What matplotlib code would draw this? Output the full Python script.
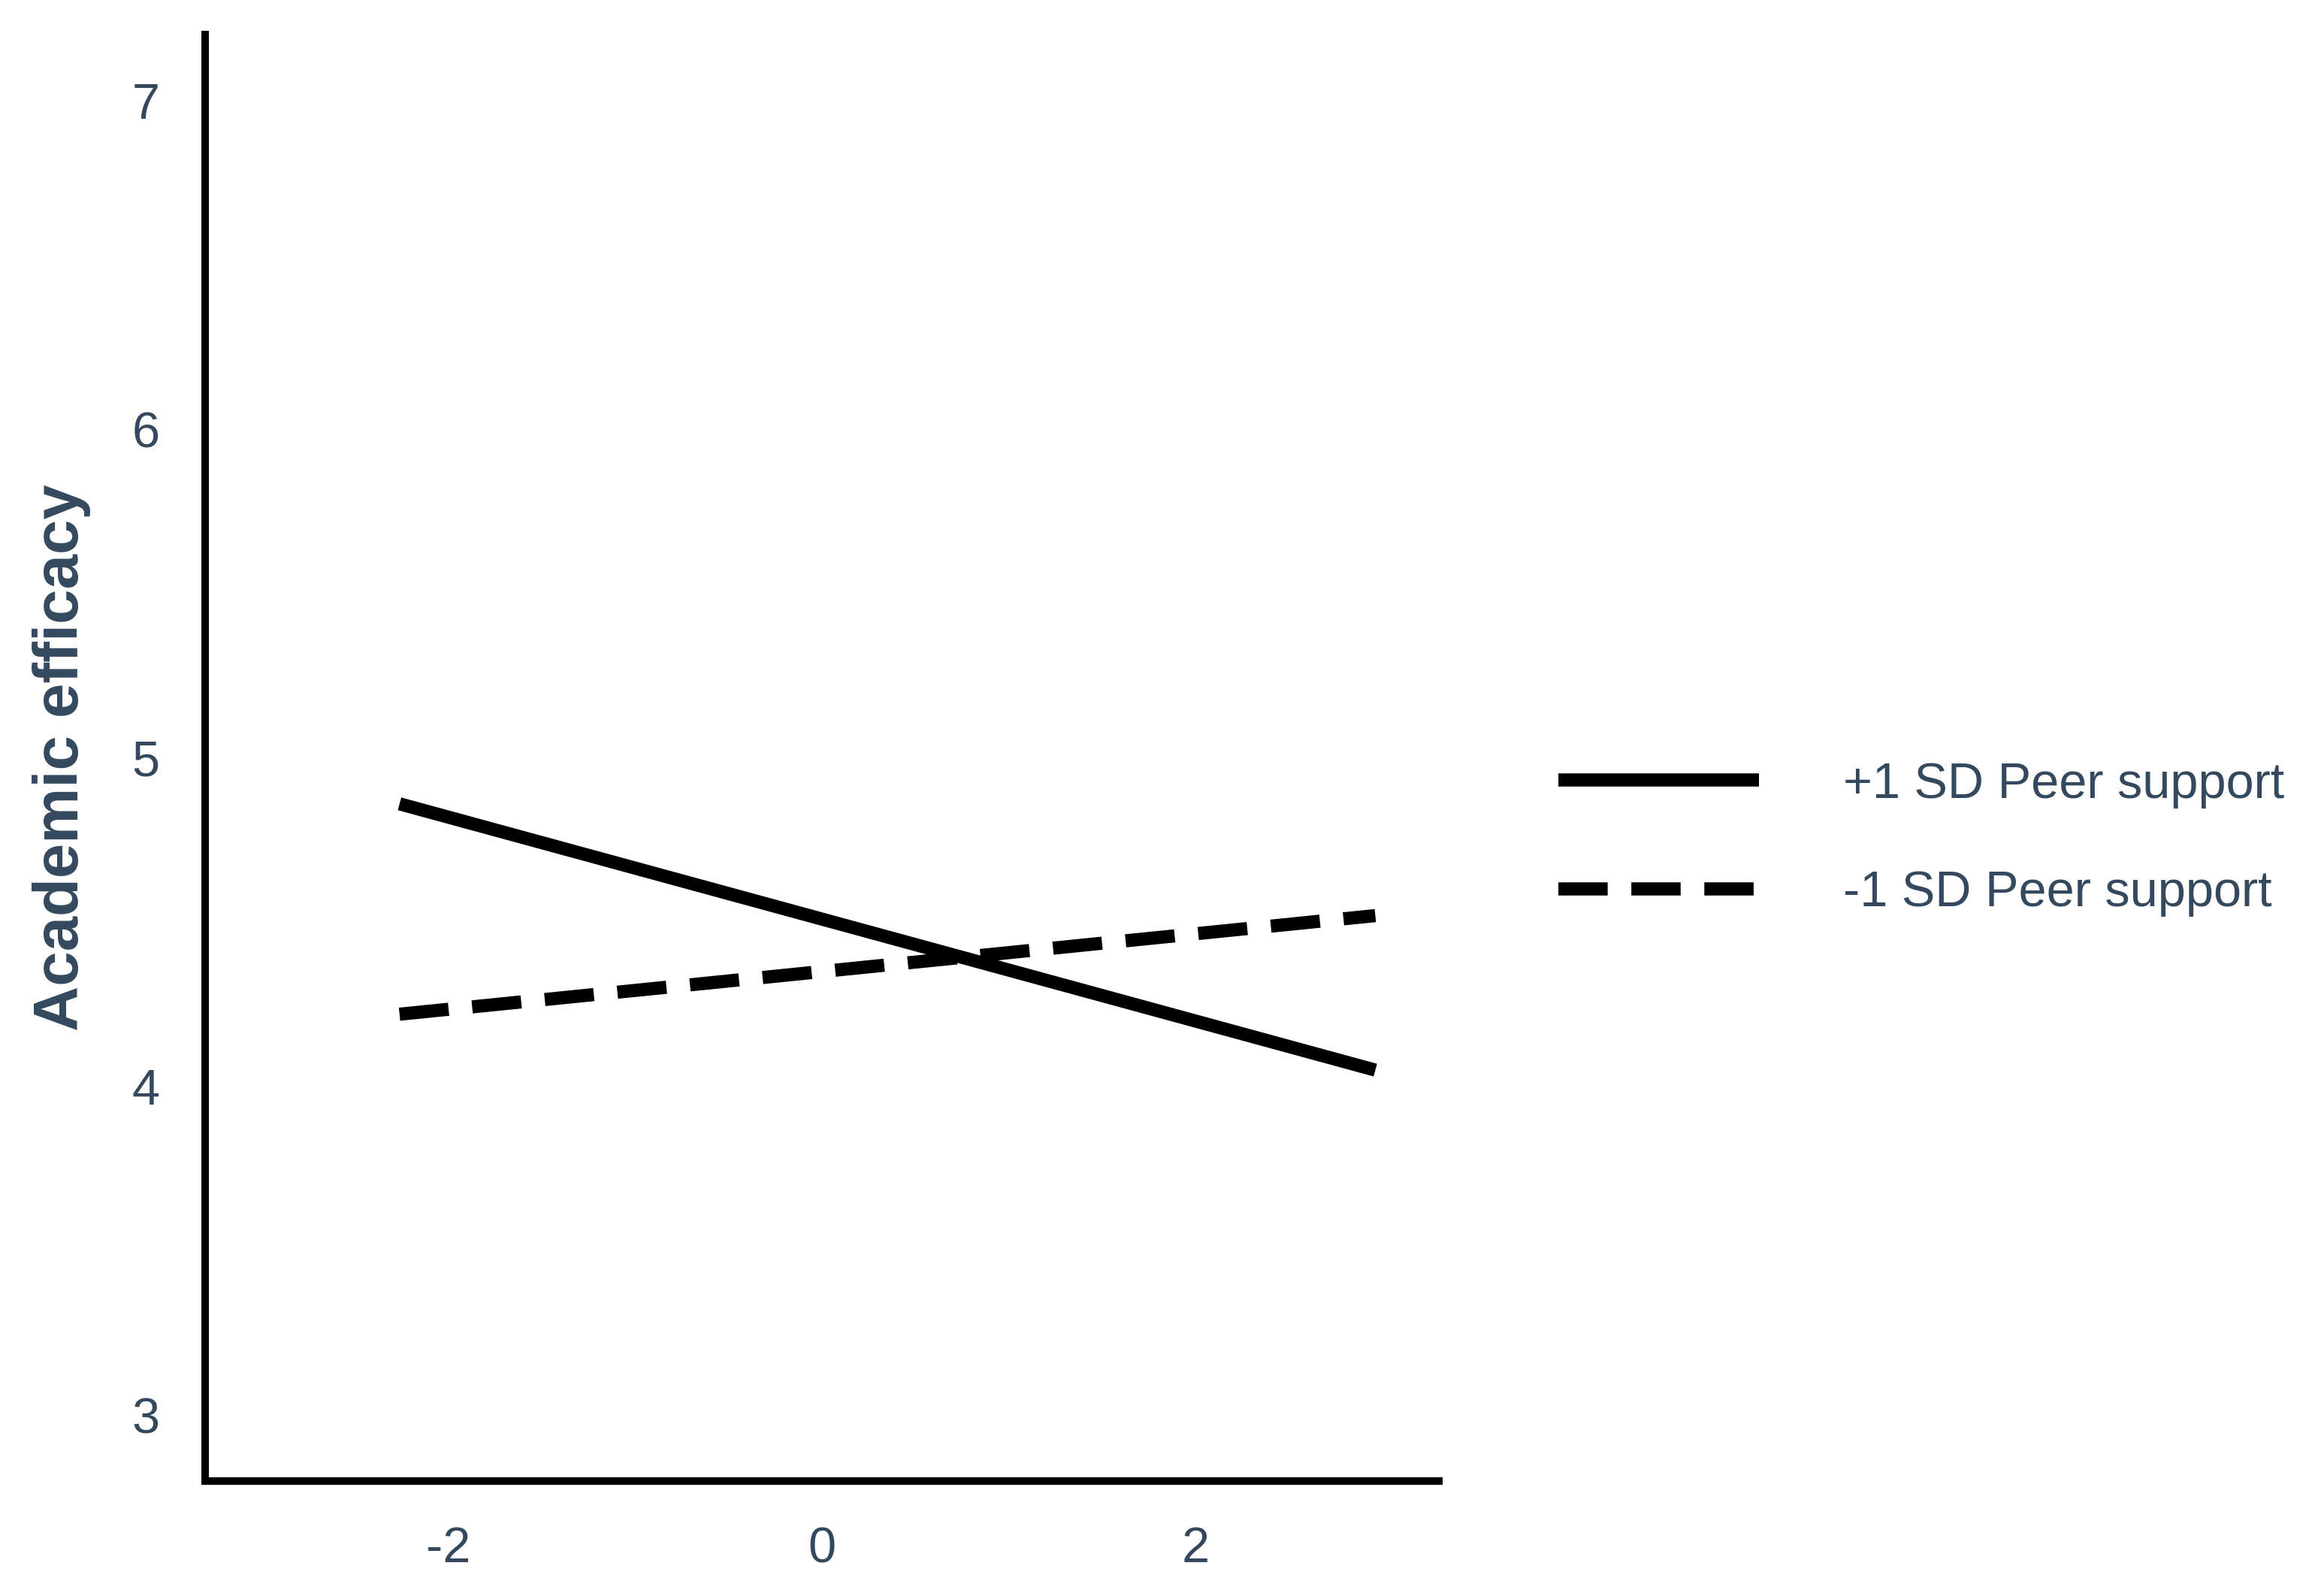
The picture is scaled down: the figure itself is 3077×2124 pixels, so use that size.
import matplotlib
matplotlib.use("Agg")
import matplotlib.pyplot as plt

# Data
x_vals = [-2.26, 2.96]
high_peer = [4.86, 4.05]   # +1 SD Peer support
low_peer = [4.22, 4.52]    # -1 SD Peer support
series_labels = ["+1 SD Peer support", "-1 SD Peer support"]
x_ticks = [-2, 0, 2]
y_ticks = [3, 4, 5, 6, 7]
y_label = "Academic efficacy"

TEXT = "#34495e"
plt.rcParams['font.family'] = ['Liberation Sans', 'DejaVu Sans']

W, H, DPI = 3077, 2124, 300
fig = plt.figure(figsize=(W / DPI, H / DPI), dpi=DPI)
ax = fig.add_axes([273 / W, 1 - 1971 / H, (1915 - 273) / W, (1971 - 46) / H])

lw = 4.2
ax.plot(x_vals, high_peer, color="black", lw=lw, solid_capstyle="butt",
        label=series_labels[0])
ax.plot(x_vals, low_peer, color="black", lw=lw, dashes=(3.75, 1.8),
        dash_capstyle="butt", label=series_labels[1])

ax.set_xlim(-3.3, 3.3)
ax.set_ylim(2.8, 7.2)
ax.set_xticks(x_ticks)
ax.set_yticks(y_ticks)
ax.set_xticklabels([str(t) for t in x_ticks])
ax.set_yticklabels([str(t) for t in y_ticks])
ax.tick_params(axis="both", length=0, pad=14.5, labelsize=16, labelcolor=TEXT)

for s in ["top", "right"]:
    ax.spines[s].set_visible(False)
for s in ["left", "bottom"]:
    ax.spines[s].set_linewidth(2.4)
    ax.spines[s].set_color("black")

ax.set_ylabel(y_label, fontsize=20, fontweight="bold", color=TEXT)
ax.yaxis.set_label_coords(-0.0926, 0.5)

leg = fig.legend(loc="center left", bbox_to_anchor=(2074 / W, 1 - 1117 / H),
                 bbox_transform=fig.transFigure, frameon=False, fontsize=16,
                 handlelength=4.0, handletextpad=1.68, labelspacing=1.24,
                 borderpad=0, borderaxespad=0)
for t in leg.get_texts():
    t.set_color(TEXT)

fig.savefig("out.png", dpi=DPI, facecolor="white")
